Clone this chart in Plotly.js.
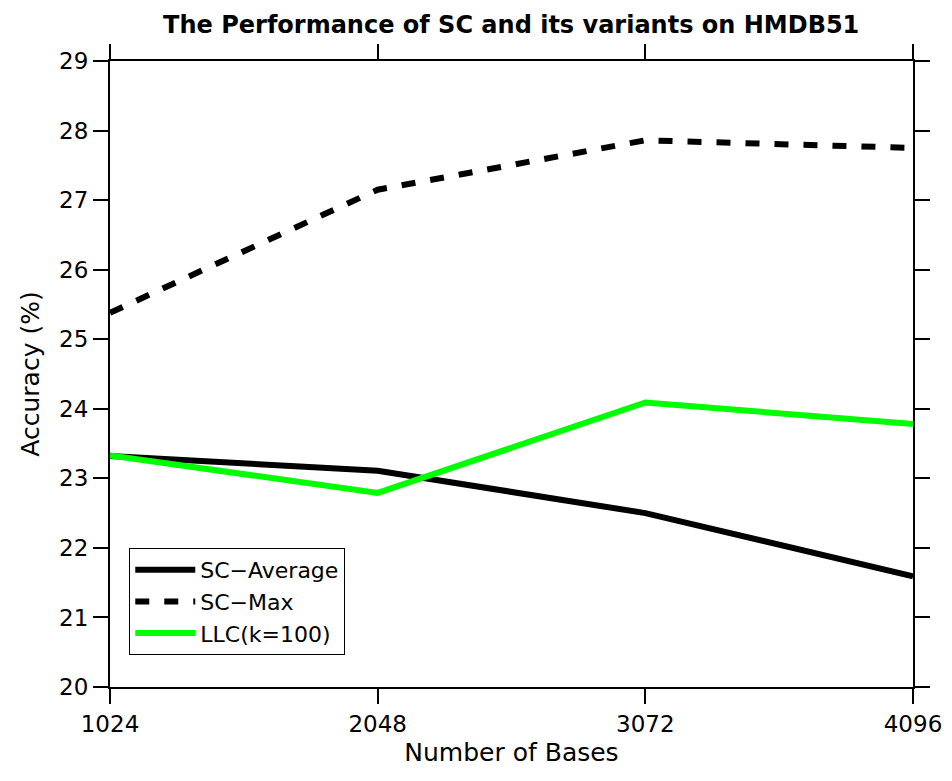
<!DOCTYPE html>
<html>
<head>
<meta charset="utf-8">
<script src="https://cdn.plot.ly/plotly-3.0.1.min.js"></script>
<style>html,body{margin:0;padding:0;background:#fff;}#chart{width:952px;height:781px;}</style>
</head>
<body>
<div id="chart"></div>
<script>
const bases = [1024, 2048, 3072, 4096];
const scAverage = [23.32, 23.11, 22.50, 21.59];
const scMax = [25.38, 27.15, 27.86, 27.75];
const llc = [23.33, 22.79, 24.09, 23.78];
const yTicks = [20, 21, 22, 23, 24, 25, 26, 27, 28, 29];
const seriesNames = ['SC\u2212Average', 'SC\u2212Max', 'LLC(k=100)'];

const FONT = 'DejaVu Sans, sans-serif';

const traces = [
  {x: bases, y: scAverage, name: seriesNames[0], mode: 'lines',
   line: {color: '#000000', width: 6}},
  {x: bases, y: scMax, name: seriesNames[1], mode: 'lines',
   line: {color: '#000000', width: 6, dash: '14px,15px'}},
  {x: bases, y: llc, name: seriesNames[2], mode: 'lines',
   line: {color: '#00ff00', width: 6}}
];

const axisCommon = {
  showgrid: false, zeroline: false, showline: true, linecolor: '#000', linewidth: 2,
  mirror: 'ticks', ticks: 'outside', ticklen: 15, tickwidth: 2, tickcolor: '#000',
  tickfont: {family: FONT, size: 23, color: '#000'}
};

const layout = {
  width: 952, height: 781,
  margin: {l: 110, r: 39, t: 61, b: 94},
  paper_bgcolor: '#fff', plot_bgcolor: '#fff',
  title: {text: '<b>The Performance of SC and its variants on HMDB51</b>',
          font: {family: FONT, size: 24, color: '#000'},
          x: 0.537, xanchor: 'center', y: 0.968, yanchor: 'middle'},
  xaxis: Object.assign({}, axisCommon, {
    range: [1024, 4096], tickvals: bases, ticktext: bases.map(String),
    title: {text: 'Number of Bases', font: {family: FONT, size: 25, color: '#000'}, standoff: 8}
  }),
  yaxis: Object.assign({}, axisCommon, {
    range: [20, 29], tickvals: yTicks, ticktext: yTicks.map(String),
    title: {text: 'Accuracy (%)', font: {family: FONT, size: 25, color: '#000'}, standoff: 12}
  }),
  showlegend: true,
  legend: {x: 0.024, y: 0.222, xanchor: 'left', yanchor: 'top',
    bgcolor: '#fff', bordercolor: '#000', borderwidth: 1,
    font: {family: FONT, size: 22, color: '#000'}, tracegroupgap: 0, itemwidth: 60}
};

Plotly.newPlot('chart', traces, layout, {displayModeBar: false, staticPlot: true});
</script>
</body>
</html>
